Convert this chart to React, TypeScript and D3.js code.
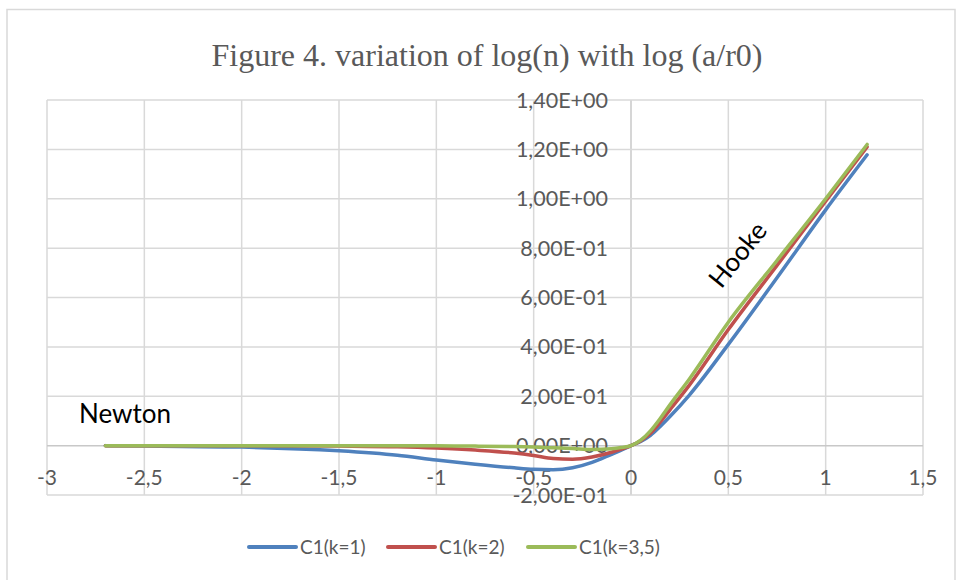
import React from "react";
import * as d3 from "d3";

const xValues = [-2.7, -2.5, -2, -1.5, -1.2, -1, -0.8, -0.6, -0.5, -0.4, -0.3, -0.2, -0.1, -0.05, 0, 0.05, 0.1, 0.15, 0.2, 0.3, 0.5, 0.75, 1.0, 1.213];
const seriesK1 = [0, -0.002, -0.006, -0.021, -0.039, -0.058, -0.075, -0.09, -0.096, -0.098, -0.09, -0.068, -0.035, -0.018, 0, 0.017, 0.042, 0.078, 0.118, 0.205, 0.41, 0.68, 0.955, 1.178];
const seriesK2 = [0, 0, 0, -0.002, -0.005, -0.01, -0.018, -0.03, -0.04, -0.052, -0.055, -0.046, -0.027, -0.014, 0, 0.02, 0.05, 0.095, 0.145, 0.245, 0.47, 0.73, 0.99, 1.21];
const seriesK35 = [0, 0, 0, 0, 0, 0, -0.002, -0.004, -0.006, -0.009, -0.012, -0.016, -0.013, -0.008, 0, 0.022, 0.06, 0.11, 0.165, 0.27, 0.5, 0.75, 1.0, 1.22];
const seriesNames = ["C1(k=1)", "C1(k=2)", "C1(k=3,5)"];
const seriesColors = ["#4f81bd", "#c0504d", "#9bbb59"];
const xTicks = [-3, -2.5, -2, -1.5, -1, -0.5, 0, 0.5, 1, 1.5];
const yTicks = [-0.2, 0, 0.2, 0.4, 0.6, 0.8, 1.0, 1.2, 1.4];
const yTickLabels = ["-2,00E-01", "0,00E+00", "2,00E-01", "4,00E-01", "6,00E-01", "8,00E-01", "1,00E+00", "1,20E+00", "1,40E+00"];
const titleText = "Figure 4. variation of log(n) with log (a/r0)";

const W = 956, H = 580;
const plot = { left: 47, right: 923, top: 100, bottom: 495 };

export default function App() {
  const x = d3.scaleLinear().domain([-3, 1.5]).range([plot.left, plot.right]);
  const y = d3.scaleLinear().domain([-0.2, 1.4]).range([plot.bottom, plot.top]);
  const all = [seriesK1, seriesK2, seriesK35];
  const line = d3.line<number>()
    .x((_, i) => x(xValues[i]))
    .y((d) => y(d))
    .curve(d3.curveMonotoneX);
  const fmtX = (v: number) => String(v).replace(".", ",");
  const font = "Lato, 'Liberation Sans', sans-serif";
  const grey = "#595959";
  const legendItems = [
    { lx: 249, tx: 300 },
    { lx: 388, tx: 439 },
    { lx: 528, tx: 579 },
  ];
  return (
    <svg width={W} height={H} style={{ position: "absolute", left: 0, top: 0, background: "#fff" }}>
      <rect x={0} y={0} width={W} height={H} fill="#fff" />
      <rect x={7} y={9.5} width={948} height={620} fill="#fff" stroke="#d9d9d9" strokeWidth={1.5} />
      <text x={487} y={66} textAnchor="middle" fontFamily="'Liberation Serif', 'Times New Roman', serif" fontSize={32} fill={grey}>{titleText}</text>
      {xTicks.map((t) => (
        <line key={"gx" + t} x1={x(t)} x2={x(t)} y1={plot.top} y2={plot.bottom} stroke={t === 0 ? "#c8c8c8" : "#d9d9d9"} strokeWidth={1.5} />
      ))}
      {yTicks.map((t) => (
        <line key={"gy" + t} x1={plot.left} x2={plot.right} y1={y(t)} y2={y(t)} stroke={t === 0 ? "#c8c8c8" : "#d9d9d9"} strokeWidth={1.5} />
      ))}
      {xTicks.map((t) => (
        <text key={"tx" + t} x={x(t)} y={y(0) + 39} textAnchor="middle" fontFamily={font} fontSize={21} fill={grey}>{fmtX(t)}</text>
      ))}
      {yTicks.map((t, i) => (
        <text key={"ty" + t} x={x(0) - 23} y={y(t) + 7.5} textAnchor="end" fontFamily={font} fontSize={21.5} fill={grey}>{yTickLabels[i]}</text>
      ))}
      {all.map((s, i) => (
        <path key={"s" + i} d={line(s) || ""} fill="none" stroke={seriesColors[i]} strokeWidth={3.5} strokeLinecap="round" strokeLinejoin="round" />
      ))}
      <text x={79} y={423} fontFamily={font} fontSize={26} fill="#000">Newton</text>
      <text x={0} y={0} transform="translate(737,254) rotate(-51)" textAnchor="middle" dominantBaseline="central" fontFamily={font} fontSize={26} fill="#000">Hooke</text>
      {legendItems.map((it, i) => (
        <g key={"lg" + i}>
          <line x1={it.lx} x2={it.lx + 47} y1={547} y2={547} stroke={seriesColors[i]} strokeWidth={4} strokeLinecap="round" />
          <text x={it.tx} y={554} fontFamily={font} fontSize={19} fill={grey}>{seriesNames[i]}</text>
        </g>
      ))}
    </svg>
  );
}
